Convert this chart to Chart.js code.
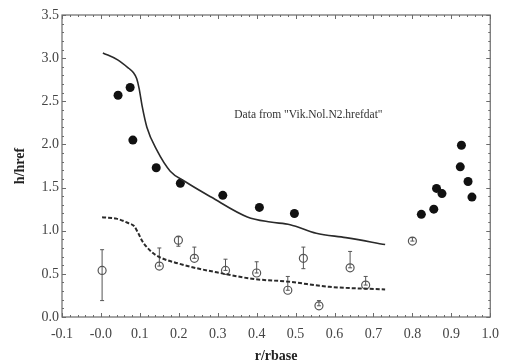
<!DOCTYPE html>
<html>
<head>
<meta charset="utf-8">
<script src="https://cdn.jsdelivr.net/npm/chart.js@4"></script>
<style>
html, body { margin: 0; padding: 0; background: #fff; }
#wrap { width: 508px; height: 361px; }
</style>
</head>
<body>
<div id="wrap"><canvas id="chart"></canvas></div>
<script>
// tick labels
const xTickLabels = ["-0.1","-0.0","0.1","0.2","0.3","0.4","0.5","0.6","0.7","0.8","0.9","1.0"];
const yTickLabels = ["0.0","0.5","1.0","1.5","2.0","2.5","3.0","3.5"];

// filled circles
const filledX = [0.044, 0.075, 0.082, 0.142, 0.204, 0.313, 0.407, 0.497, 0.823, 0.855, 0.862, 0.876, 0.923, 0.926, 0.943, 0.953];
const filledY = [2.57, 2.66, 2.05, 1.73, 1.55, 1.41, 1.27, 1.20, 1.19, 1.25, 1.49, 1.43, 1.74, 1.99, 1.57, 1.39];

// open circles with error bars
const openX = [0.003, 0.15, 0.199, 0.24, 0.32, 0.40, 0.48, 0.52, 0.56, 0.64, 0.68, 0.80];
const openY = [0.54, 0.59, 0.89, 0.68, 0.54, 0.51, 0.31, 0.68, 0.13, 0.57, 0.37, 0.88];
const errLow = [0.19, 0.59, 0.82, 0.68, 0.54, 0.51, 0.31, 0.56, 0.13, 0.57, 0.37, 0.88];
const errHigh = [0.78, 0.80, 0.93, 0.81, 0.67, 0.64, 0.47, 0.81, 0.19, 0.76, 0.47, 0.92];

// solid curve
const solidX = [0.005, 0.043, 0.072, 0.082, 0.092, 0.098, 0.106, 0.118, 0.144, 0.178, 0.216, 0.283, 0.376, 0.435, 0.486, 0.553, 0.629, 0.73];
const solidY = [3.06, 2.98, 2.88, 2.84, 2.76, 2.65, 2.44, 2.20, 1.93, 1.69, 1.57, 1.39, 1.16, 1.10, 1.07, 0.97, 0.92, 0.84];

// dashed curve
const dashX = [0.003, 0.04, 0.072, 0.085, 0.096, 0.106, 0.12, 0.14, 0.199, 0.317, 0.393, 0.48, 0.587, 0.73];
const dashY = [1.155, 1.14, 1.085, 1.055, 0.97, 0.88, 0.80, 0.72, 0.62, 0.50, 0.44, 0.41, 0.35, 0.32];

const annotation = 'Data from "Vik.Nol.N2.hrefdat"';
const annX = 0.533;
const annY = 2.34;

const toPoints = (xs, ys) => xs.map((x, i) => ({ x: x, y: ys[i] }));

const errPoints = [];
openX.forEach((x, i) => {
  errPoints.push({ x: x, y: errLow[i] });
  errPoints.push({ x: x, y: errHigh[i] });
  errPoints.push({ x: x, y: null });
});

const serif = "'Liberation Serif', 'DejaVu Serif', serif";

// frame, inward ticks on all sides, annotation
const framePlugin = {
  id: "frame",
  afterDatasetsDraw(chart) {
    const { ctx, chartArea: { left, right, top, bottom }, scales: { x, y } } = chart;
    ctx.save();
    ctx.strokeStyle = "#6a6a6a";
    ctx.lineWidth = 1.2;
    ctx.strokeRect(left, top, right - left, bottom - top);

    ctx.lineWidth = 1;
    for (let i = 0; i <= 55; i++) {
      const v = -0.1 + i * 0.02;
      const px = Math.round(x.getPixelForValue(v)) + 0.5;
      const len = i % 5 === 0 ? 4 : 2;
      ctx.beginPath();
      ctx.moveTo(px, bottom); ctx.lineTo(px, bottom - len);
      ctx.moveTo(px, top); ctx.lineTo(px, top + len);
      ctx.stroke();
    }
    for (let i = 0; i <= 35; i++) {
      const v = i * 0.1;
      const py = Math.round(y.getPixelForValue(v)) + 0.5;
      const len = i % 5 === 0 ? 4 : 2;
      ctx.beginPath();
      ctx.moveTo(left, py); ctx.lineTo(left + len, py);
      ctx.moveTo(right, py); ctx.lineTo(right - len, py);
      ctx.stroke();
    }

    ctx.fillStyle = "#333";
    ctx.font = "11.5px " + serif;
    ctx.textAlign = "center";
    ctx.textBaseline = "middle";
    ctx.fillText(annotation, x.getPixelForValue(annX), y.getPixelForValue(annY));
    ctx.restore();
  }
};

new Chart(document.getElementById("chart"), {
  type: "scatter",
  data: {
    datasets: [
      {
        type: "line",
        data: toPoints(solidX, solidY),
        borderColor: "#2a2a2a",
        borderWidth: 1.6,
        pointRadius: 0,
        cubicInterpolationMode: "monotone",
        fill: false
      },
      {
        type: "line",
        data: toPoints(dashX, dashY),
        borderColor: "#2a2a2a",
        borderWidth: 2,
        borderDash: [4, 2],
        pointRadius: 0,
        cubicInterpolationMode: "monotone",
        fill: false
      },
      {
        type: "line",
        data: errPoints,
        borderColor: "#555",
        borderWidth: 1,
        pointStyle: "line",
        pointRadius: 2,
        pointBorderColor: "#555",
        pointBorderWidth: 1,
        spanGaps: false,
        fill: false
      },
      {
        data: toPoints(openX, openY),
        pointRadius: 4,
        pointBackgroundColor: "rgba(255,255,255,0)",
        pointBorderColor: "#555",
        pointBorderWidth: 1.2
      },
      {
        data: toPoints(filledX, filledY),
        pointRadius: 4.5,
        pointBackgroundColor: "#111",
        pointBorderColor: "#111",
        pointBorderWidth: 0
      }
    ]
  },
  options: {
    responsive: true,
    maintainAspectRatio: false,
    animation: false,
    layout: { padding: { left: 0, right: 11, top: 15, bottom: 0 } },
    plugins: {
      legend: { display: false },
      tooltip: { enabled: false }
    },
    scales: {
      x: {
        type: "linear",
        min: -0.1,
        max: 1.0,
        grid: { display: false, drawTicks: false },
        border: { display: false },
        ticks: {
          stepSize: 0.1,
          padding: 9,
          color: "#444",
          font: { family: serif, size: 14 },
          callback: (v, i) => xTickLabels[i]
        },
        title: {
          display: true,
          text: "r/rbase",
          color: "#222",
          font: { family: serif, size: 14, weight: "bold" },
          padding: { top: 2, bottom: -4 }
        },
        afterFit: (scale) => { scale.height = 44; }
      },
      y: {
        type: "linear",
        min: 0,
        max: 3.5,
        grid: { display: false, drawTicks: false },
        border: { display: false },
        ticks: {
          stepSize: 0.5,
          padding: 3,
          color: "#444",
          font: { family: serif, size: 14 },
          callback: (v, i) => yTickLabels[i]
        },
        title: {
          display: true,
          text: "h/href",
          color: "#222",
          font: { family: serif, size: 14, weight: "bold" },
          padding: { top: 12, bottom: 0 }
        },
        afterFit: (scale) => { scale.width = 62; }
      }
    }
  },
  plugins: [framePlugin]
});
</script>
</body>
</html>
